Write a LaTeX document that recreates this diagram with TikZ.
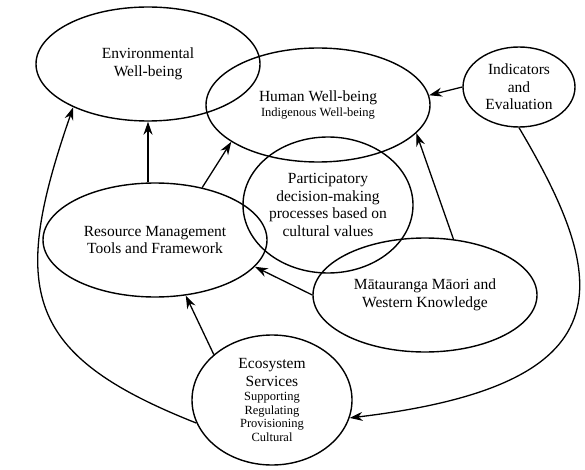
\documentclass[tikz,border=0pt]{standalone}
\usepackage{fontspec}
\setmainfont{Liberation Serif}
\usetikzlibrary{shapes.geometric,arrows.meta}
\newcommand{\bigtxt}{\fontsize{15.5}{17.5}\selectfont}
\newcommand{\smtxt}{\fontsize{12.5}{13.5}\selectfont}

\begin{document}
\begin{tikzpicture}[x=1pt,y=-1pt,
	bubble/.style={draw, ellipse, line width=1.4pt, inner sep=0pt, align=center, font=\bigtxt},
	arr/.style={line width=1.3pt, -{Stealth[length=13pt,width=9pt]}}]
	\useasboundingbox (0,0) rectangle (585,470);
	% the bubbles
	\node[bubble, minimum width=224pt, minimum height=114pt] (env) at (148,64) {Environmental\\Well-being};
	\node[bubble, minimum width=224pt, minimum height=114pt] (hum) at (318,105) {Human Well-being\\[-2pt]{\smtxt Indigenous Well-being}};
	\node[bubble, minimum width=112pt, minimum height=80pt] (ind) at (519,87) {Indicators\\and\\Evaluation};
	\node[bubble, minimum width=170pt, minimum height=136pt] (part) at (328,205) {Participatory\\decision-making\\processes based on\\cultural values};
	\node[bubble, minimum width=224pt, minimum height=114pt] (res) at (155,240) {Resource Management\\Tools and Framework};
	\node[bubble, minimum width=224pt, minimum height=114pt] (mat) at (425,295) {Mātauranga Māori and\\Western Knowledge};
	\node[bubble, minimum width=160pt, minimum height=130pt] (eco) at (272,400) {Ecosystem\\Services\\[-3pt]{\smtxt Supporting}\\[-4pt]{\smtxt Regulating}\\[-4pt]{\smtxt Provisioning}\\[-4pt]{\smtxt Cultural}};
	% the arrows
	\draw[arr] (res.north -| env.south) -- (env.south);
	\draw[arr] (res.48) -- (hum.203);
	\draw[arr] (eco.197) .. controls +(-172,-68) and +(-64,184) .. (env.210);
	\draw[arr] (eco.142) -- (res.299);
	\draw[arr] (mat.west) -- (res.345);
	\draw[arr] (mat.63) -- (hum.344);
	\draw[arr] (ind.west) -- (hum.5);
	\draw[arr] (ind.south) .. controls +(92,155) and +(278,-33) .. (eco.347);
\end{tikzpicture}
\end{document}
